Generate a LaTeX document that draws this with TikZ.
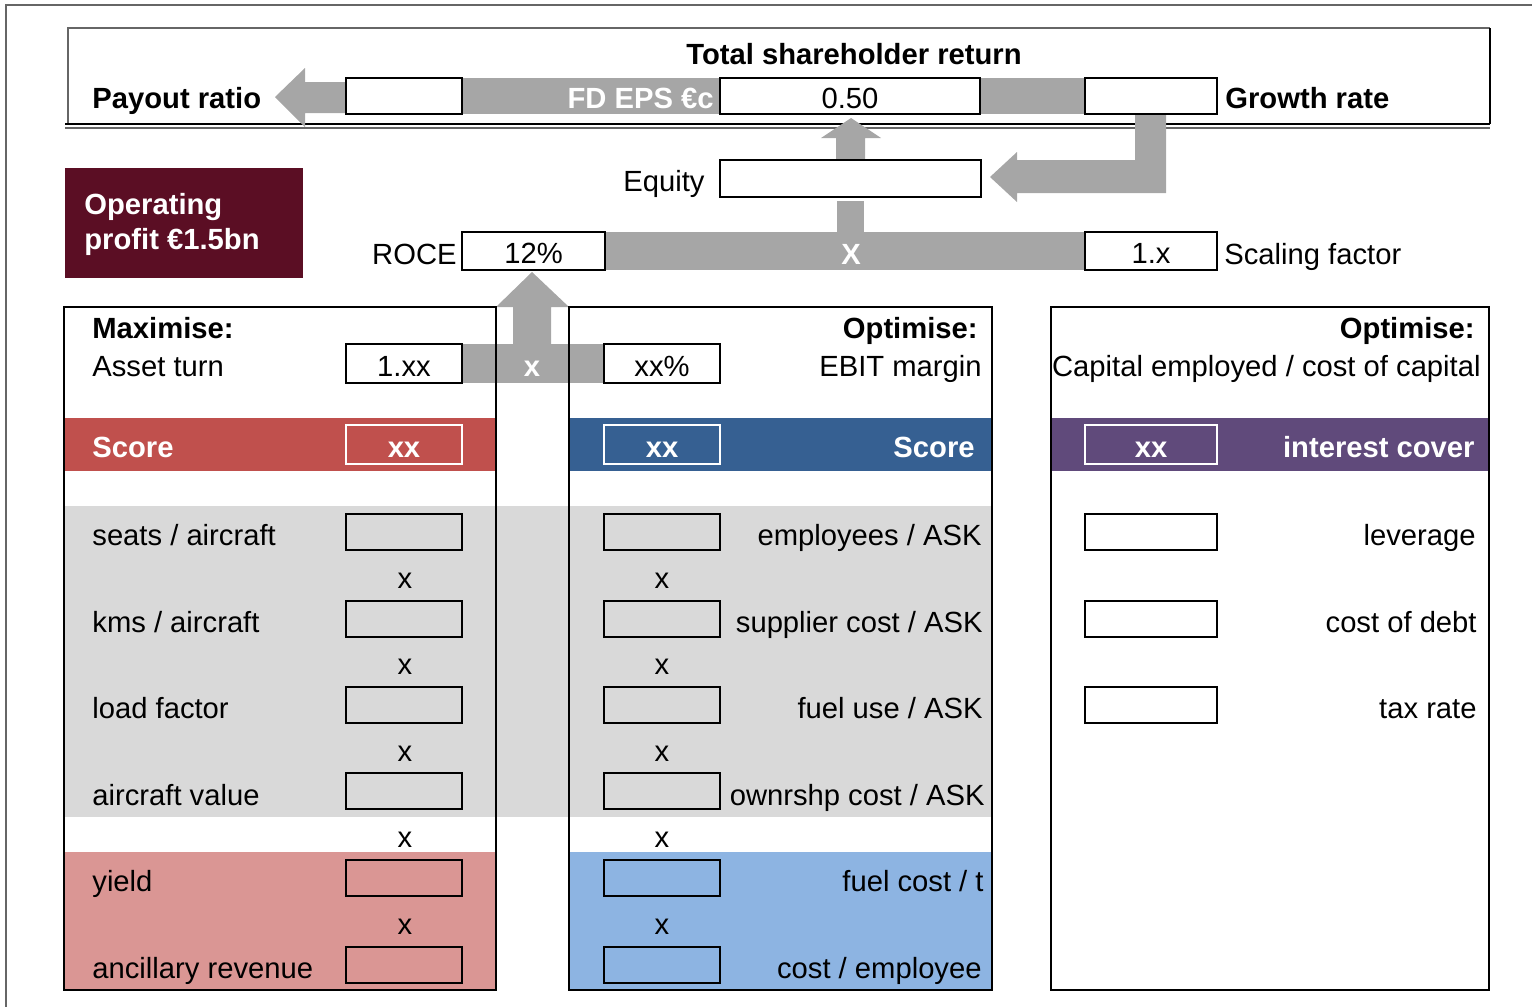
\documentclass[tikz,border=0pt]{standalone}
\usepackage{fontspec}
\setmainfont{Liberation Sans}
\definecolor{arrowgrey}{HTML}{A6A6A6}
\definecolor{bandgrey}{HTML}{D9D9D9}
\definecolor{framegrey}{HTML}{666666}
\definecolor{maroon}{HTML}{5B0E24}
\definecolor{revred}{HTML}{C0504D}
\definecolor{revlight}{HTML}{DA9694}
\definecolor{costblue}{HTML}{366092}
\definecolor{costlight}{HTML}{8DB4E2}
\definecolor{cappurple}{HTML}{604A7B}
\begin{document}
\begin{tikzpicture}[x=0.5pt,y=-0.5pt,
  every node/.style={font=\fontsize{14.6}{17}\selectfont, inner sep=0pt},
  bf/.style={font=\fontsize{14.6}{17}\selectfont\bfseries},
  lbl/.style={anchor=base west},
  lblr/.style={anchor=base east},
  lblc/.style={anchor=base},
  valbox/.style={draw=black, line width=1pt, minimum height=18pt,
    text height=12.8pt, text depth=0pt},
  wbox/.style={valbox, fill=white},
  scorebox/.style={valbox, draw=white, text=white, bf, minimum height=19.5pt},
  panel/.style={draw=black, line width=1pt},
  blockarrow/.style={fill=arrowgrey}
]
\useasboundingbox (0,0) rectangle (1532,1007);

% outer frame
\draw[framegrey, line width=1pt] (6,1007) -- (6,5) -- (1532,5);

% total shareholder return frame
\draw[framegrey, line width=1pt] (68,124) -- (68,28) -- (1490,28);
\draw[black, line width=1pt] (1490,28) -- (1490,124);
\draw[black, line width=1.25pt] (65,124) -- (1490,124);
\draw[framegrey, line width=1pt] (65,127.5) -- (1490,127.5);

% EPS band and payout arrow
\fill[arrowgrey] (462,78) rectangle (1085,114);
\fill[blockarrow] (275,97) -- (305,68) -- (305,82) -- (346,82) -- (346,113)
  -- (305,113) -- (305,127) -- cycle;

% equity up arrow into EPS
\fill[blockarrow] (851,118) -- (881,138) -- (865,138) -- (865,160) -- (836,160)
  -- (836,138) -- (821,138) -- cycle;

% growth arrow bending into equity
\fill[blockarrow] (990,177) -- (1017,152) -- (1017,160) -- (1135,160) -- (1135,114)
  -- (1166,114) -- (1166,193) -- (1017,193) -- (1017,202) -- cycle;

% ROCE x scaling band and shaft up to equity
\fill[arrowgrey] (605,232) rectangle (1085,270);
\fill[arrowgrey] (837,201) rectangle (864,232);

% asset turn x margin band and arrow up to ROCE
\fill[arrowgrey] (462,344) rectangle (604,383);
\fill[blockarrow] (532,272) -- (569,307) -- (551,307) -- (551,344) -- (513,344)
  -- (513,307) -- (496,307) -- cycle;

% panel fills
\fill[bandgrey] (64,506) rectangle (992,817);
\fill[revred] (64,418) rectangle (496,471);
\fill[revlight] (64,852) rectangle (496,990);
\fill[costblue] (569,418) rectangle (992,471);
\fill[costlight] (569,852) rectangle (992,990);
\fill[cappurple] (1051,418) rectangle (1489,471);

% panel borders
\draw[panel] (64,307) rectangle (496,990);
\draw[panel] (569,307) rectangle (992,990);
\draw[panel] (1051,307) rectangle (1489,990);

% top row
\node[bf, lblc] (tsr) at (854,64.5) {Total shareholder return};
\node[bf, lbl] (payout) at (92,108) {Payout ratio};
\node[wbox, minimum width=58pt] (payoutbox) at (404,96) {};
\node[bf, lblr, text=white] (eps) at (714,108) {FD EPS €c};
\node[wbox, minimum width=130pt] (epsbox) at (850,96) {0.50};
\node[wbox, minimum width=66pt] (growthbox) at (1151,96) {};
\node[bf, lbl] (growth) at (1225,108) {Growth rate};

% equity
\node[lblr] (equity) at (705,191) {Equity};
\node[wbox, minimum width=130.5pt, minimum height=18.5pt] (equitybox) at (850.5,178.5) {};

% operating profit
\node[fill=maroon, minimum width=119pt, minimum height=55pt] (op) at (184,223) {};
\node[bf, lbl, text=white] (op1) at (84,214) {Operating};
\node[bf, lbl, text=white] (op2) at (84,249) {profit €1.5bn};

% ROCE row
\node[lblr] (roce) at (457,264) {ROCE};
\node[wbox, minimum width=71.5pt, minimum height=19pt] (rocebox) at (533.5,251) {12\%};
\node[bf, lblc, text=white] (times1) at (851,264) {X};
\node[wbox, minimum width=66pt, minimum height=19pt] (scalebox) at (1151,251) {1.x};
\node[lbl] (scale) at (1224,264) {Scaling factor};

% revenue panel
\node[bf, lbl] (maxi) at (92,338) {Maximise:};
\node[lbl] (asset) at (92,376) {Asset turn};
\node[wbox, minimum width=58pt, minimum height=19.5pt] (assetbox) at (404,363.5) {1.xx};
\node[bf, lblc, text=white] (times2) at (532,376) {x};
\node[bf, lbl, text=white] (scoreL) at (92,457) {Score};
\node[scorebox, minimum width=58pt] (scoreLbox) at (404,444.5) {xx};

\node[lbl] (l1) at (92,545) {seats / aircraft};
\node[lbl] (l2) at (92,632) {kms / aircraft};
\node[lbl] (l3) at (92,718) {load factor};
\node[lbl] (l4) at (92,805) {aircraft value};
\node[lbl] (l5) at (92,891) {yield};
\node[lbl] (l6) at (92,978) {ancillary revenue};
\foreach \y [count=\i] in {532,618.5,705,791,877.5,964.5}
  \node[valbox, minimum width=58pt] (lb\i) at (404,\y) {};
\foreach \y [count=\i] in {588,674,761,847,934}
  \node[lblc] (lx\i) at (405,\y) {x};

% cost panel
\node[bf, lblr] (opt1) at (978,338) {Optimise:};
\node[lblr] (ebit) at (982,376) {EBIT margin};
\node[wbox, minimum width=58pt, minimum height=19.5pt] (ebitbox) at (662,363.5) {xx\%};
\node[bf, lblr, text=white] (scoreC) at (975,457) {Score};
\node[scorebox, minimum width=58pt] (scoreCbox) at (662,444.5) {xx};

\node[lblr] (c1) at (982,545) {employees / ASK};
\node[lblr] (c2) at (983,632) {supplier cost / ASK};
\node[lblr] (c3) at (983,718) {fuel use / ASK};
\node[lblr] (c4) at (985,805) {ownrshp cost / ASK};
\node[lblr] (c5) at (984,891) {fuel cost / t};
\node[lblr] (c6) at (982,978) {cost / employee};
\foreach \y [count=\i] in {532,618.5,705,791,877.5,964.5}
  \node[valbox, minimum width=58pt] (cb\i) at (662,\y) {};
\foreach \y [count=\i] in {588,674,761,847,934}
  \node[lblc] (cx\i) at (662,\y) {x};

% capital panel
\node[bf, lblr] (opt2) at (1475,338) {Optimise:};
\node[lblr] (cap) at (1481,376) {Capital employed / cost of capital};
\node[bf, lblr, text=white] (cover) at (1475,457) {interest cover};
\node[scorebox, minimum width=66pt] (coverbox) at (1151,444.5) {xx};
\node[lblr] (r1) at (1476,545) {leverage};
\node[lblr] (r2) at (1477,632) {cost of debt};
\node[lblr] (r3) at (1477,718) {tax rate};
\foreach \y [count=\i] in {532,618.5,705}
  \node[valbox, minimum width=66pt] (rb\i) at (1151,\y) {};
\end{tikzpicture}
\end{document}
